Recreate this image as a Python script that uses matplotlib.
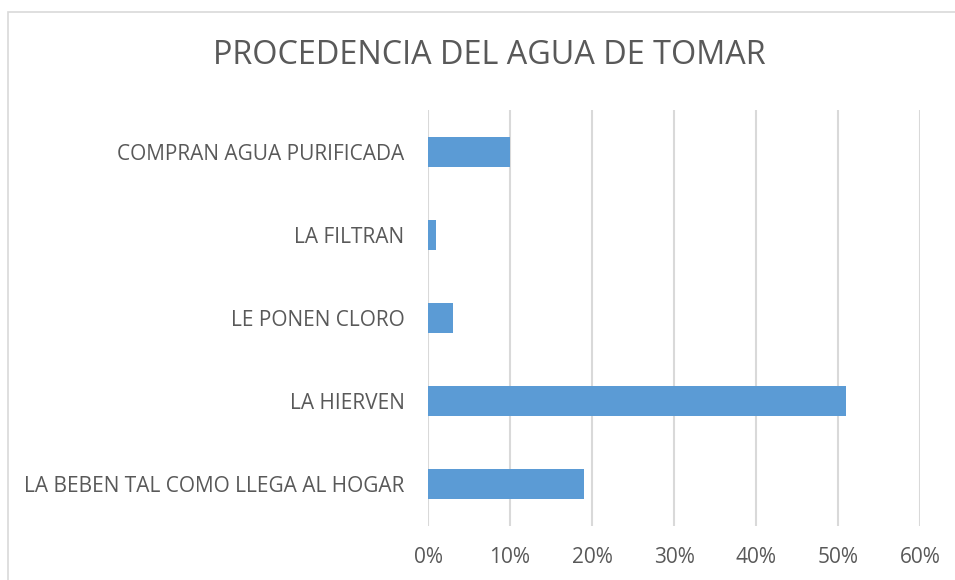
import numpy as np
import matplotlib
matplotlib.use('Agg')
import matplotlib.pyplot as plt
from matplotlib.ticker import PercentFormatter
from matplotlib.patches import Rectangle

# datos
categorias = ['LA BEBEN TAL COMO LLEGA AL HOGAR', 'LA HIERVEN', 'LE PONEN CLORO',
              'LA FILTRAN', 'COMPRAN AGUA PURIFICADA']
valores = [0.19, 0.51, 0.03, 0.01, 0.10]
ticks = [0, 0.1, 0.2, 0.3, 0.4, 0.5, 0.6]

plt.rcParams['font.family'] = ['Open Sans', 'DejaVu Sans']
gris = '#595959'

fig = plt.figure(figsize=(9.55, 5.8), dpi=100)
W, H = 955, 580
ax = fig.add_axes([428 / W, 1 - 526 / H, (920 - 428) / W, (526 - 110) / H])

# borde del área del gráfico (cortado a la derecha y abajo)
fig.patches.append(Rectangle((8 / W, -0.05), 1.1, 1 - 12 / H + 0.05,
                             transform=fig.transFigure, fill=False,
                             edgecolor='#d9d9d9', linewidth=1.2))

y = np.arange(len(categorias))
ax.barh(y, valores, height=0.36, color='#5b9bd5', zorder=3)

ax.set_xlim(0, 0.6)
ax.set_ylim(-0.5, len(categorias) - 0.5)
ax.set_xticks(ticks)
ax.xaxis.set_major_formatter(PercentFormatter(1.0, decimals=0))
ax.set_yticks(y)
ax.set_yticklabels(categorias)
ax.grid(axis='x', color='#d9d9d9', linewidth=1.5, zorder=0)
ax.tick_params(length=0, labelsize=15, labelcolor=gris)
ax.tick_params(axis='x', pad=15)
ax.tick_params(axis='y', pad=17)
for s in ax.spines.values():
    s.set_visible(False)

fig.text(489 / W, 1 - 55 / H, 'PROCEDENCIA DEL AGUA DE TOMAR', ha='center', va='center',
         fontsize=23.3, color=gris)

fig.savefig('out.png', dpi=100)
